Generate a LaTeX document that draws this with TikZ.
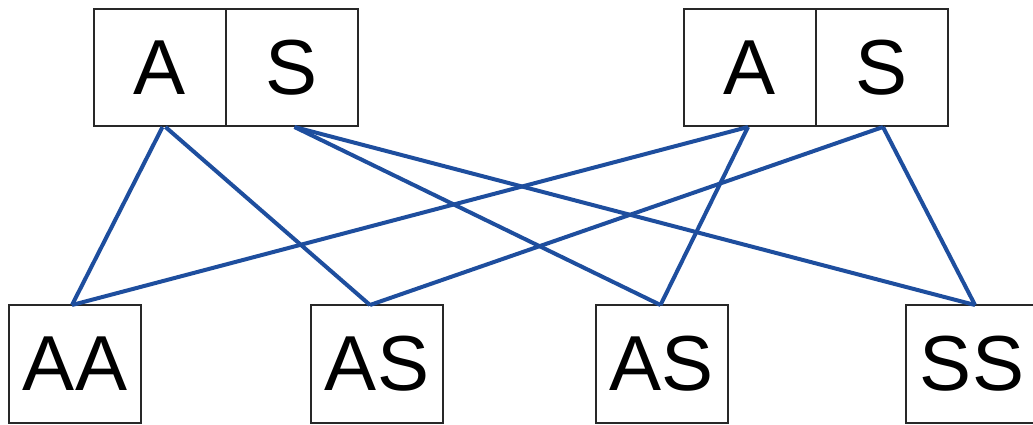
\documentclass[tikz,border=0pt]{standalone}
\usepackage{fontspec}
\setmainfont{Liberation Sans}
\usetikzlibrary{calc}
\definecolor{linkblue}{RGB}{30,78,158}
\definecolor{boxgray}{RGB}{40,40,40}
\begin{document}
\begin{tikzpicture}[x=1pt,y=-1pt,
  cell/.style={draw=boxgray,line width=2pt,inner sep=0pt,outer sep=0pt,
    minimum width=132pt,minimum height=117pt,
    font=\fontsize{78}{80}\selectfont},
  link/.style={draw=linkblue,line width=4pt}]
\useasboundingbox (0,0) rectangle (1033,424);
\begin{scope}
\clip (0,0) rectangle (1033,424);
% top pairs
\node[cell] (tA1) at (159.5,67.5) {A};
\node[cell] (tS1) at (291.5,67.5) {S};
\node[cell] (tA2) at (750,67.5) {A};
\node[cell] (tS2) at (882,67.5) {S};
% bottom genotypes
\node[cell,minimum height=118pt] (bAA) at (75,364) {AA};
\node[cell,minimum height=118pt] (bAS1) at (377,364) {AS};
\node[cell,minimum height=118pt] (bAS2) at (661.5,364) {AS};
\node[cell,minimum height=118pt] (bSS) at (972,364) {SS};
% connectors
\draw[link] ($(tA1.south)+(3,1)$) -- ($(bAA.north)+(-3,0)$);
\draw[link] ($(tA1.south)+(6,1)$) -- ($(bAS1.north)+(-7,0)$);
\draw[link] ($(tS1.south)+(3,1)$) -- ($(bAS2.north)+(-1,0)$);
\draw[link] ($(tS1.south)+(3,1)$) -- ($(bSS.north)+(3,0)$);
\draw[link] ($(tA2.south)+(-2,1)$) -- ($(bAA.north)+(-3,0)$);
\draw[link] ($(tA2.south)+(-2,1)$) -- ($(bAS2.north)+(-1,0)$);
\draw[link] ($(tS2.south)+(1,1)$) -- ($(bAS1.north)+(-7,0)$);
\draw[link] ($(tS2.south)+(1,1)$) -- ($(bSS.north)+(3,0)$);
\end{scope}
\end{tikzpicture}
\end{document}
